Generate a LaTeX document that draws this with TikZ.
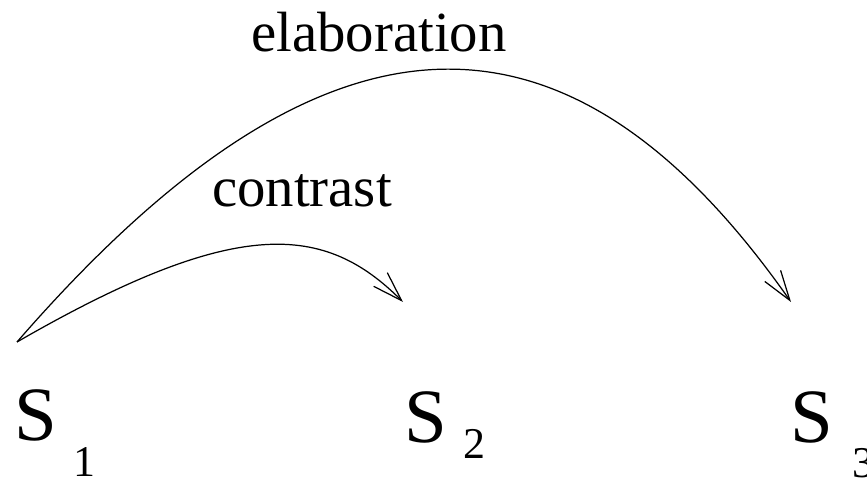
\documentclass[tikz,border=0pt]{standalone}
\usepackage{fontspec}
\setmainfont{Liberation Serif}
\usetikzlibrary{arrows.meta}

\tikzset{every node/.style={inner sep=0pt, outer sep=0pt},
  sent/.style={anchor=base west, font=\fontsize{43.7}{48}\selectfont},
  idx/.style={anchor=base, font=\fontsize{25}{28}\selectfont},
  rel/.style={anchor=base, font=\fontsize{32.3}{36}\selectfont},
  link/.style={line width=0.7pt, -{Straight Barb[length=17pt, width=11pt, line width=0.7pt]}}}

\begin{document}
\begin{tikzpicture}[x=0.02cm, y=-0.02cm]
  \useasboundingbox (0,0) rectangle (867,483);
  \node[sent] (s1) at (14,440) {S};
  \node[idx] (i1) at (84,477) {1};
  \node[sent] (s2) at (404,442) {S};
  \node[idx] (i2) at (474,459) {2};
  \node[sent] (s3) at (790,442) {S};
  \node[idx] (i3) at (863,478) {3};
  \node[rel] (elab) at (379,52) {elaboration};
  \node[rel] (contr) at (302,207) {contrast};
  \coordinate (w0) at (17,342);
  \coordinate (w1) at (403,302);
  \coordinate (w2) at (791,302);
  \draw[link] (w0) .. controls (238,214.5) and (325,224) .. (w1);
  \draw[link] (w0) .. controls (316,-2) and (561,-26) .. (w2);
\end{tikzpicture}
\end{document}
